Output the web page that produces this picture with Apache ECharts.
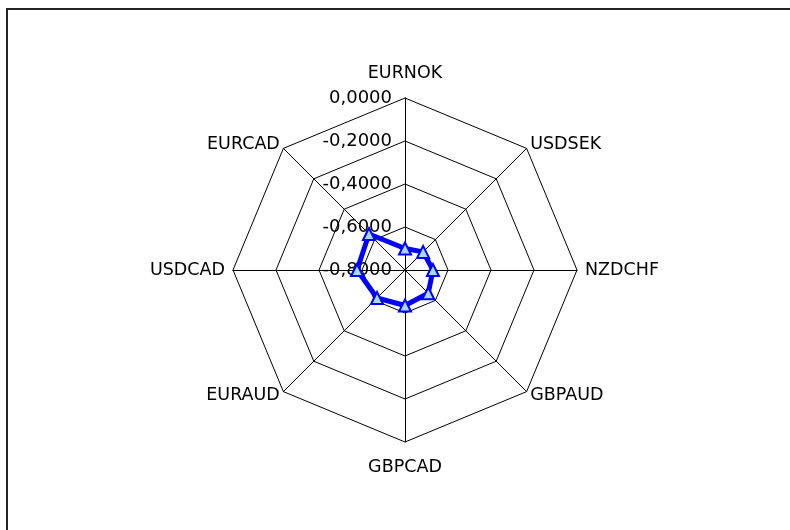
<!DOCTYPE html>
<html>
<head>
<meta charset="utf-8">
<script src="https://cdn.jsdelivr.net/npm/echarts@6/dist/echarts.min.js"></script>
<style>
  html, body { margin: 0; padding: 0; background: #fff; }
  #main { width: 790px; height: 530px; }
</style>
</head>
<body>
<div id="main"></div>
<script>
// indicators in ECharts order (top first, then counter-clockwise)
const categories = ["EURNOK", "EURCAD", "USDCAD", "EURAUD", "GBPCAD", "GBPAUD", "NZDCHF", "USDSEK"];
const values = [-0.700, -0.563, -0.577, -0.616, -0.635, -0.647, -0.670, -0.681];
const axisMin = -0.8;
const axisMax = 0;

var chartDom = document.getElementById("main");
var myChart = echarts.init(chartDom);
var option;

const fmt = (v) => Number(v).toFixed(4).replace(".", ",");

// name gap per direction: vertical ones sit further out
const gapFor = (i) => {
  if (i === 0 || i === 4) return 16;
  if (i === 2 || i === 6) return 8;
  return 5;
};

option = {
  backgroundColor: "#fff",
  animation: false,
  graphic: [
    {
      type: "rect",
      shape: { x: 7, y: 9, width: 800, height: 560 },
      style: { fill: "none", stroke: "#222", lineWidth: 2 },
    },
  ],
  radar: {
    center: [405, 270],
    radius: 172,
    shape: "polygon",
    splitNumber: 4,
    nameGap: 10,
    axisName: {
      color: "#000",
      fontFamily: "DejaVu Sans",
      fontSize: 17.5,
    },
    indicator: categories.map((name, i) => ({
      name: name,
      min: axisMin,
      max: axisMax,
      nameGap: gapFor(i),
      axisLabel: i === 0 ? { show: true } : { show: false },
    })),
    axisLabel: {
      color: "#000",
      fontFamily: "DejaVu Sans",
      fontSize: 18,
      margin: 13,
      formatter: fmt,
    },
    splitLine: { lineStyle: { color: "#000", width: 1 } },
    splitArea: { show: false },
    axisLine: { lineStyle: { color: "#000", width: 1 } },
  },
  series: [
    {
      type: "radar",
      symbol: "triangle",
      symbolSize: 12,
      lineStyle: { color: "#0000ff", width: 5 },
      itemStyle: { color: "#a8d8ff", borderColor: "#0000ff", borderWidth: 2 },
      data: [{ value: values }],
    },
  ],
};

option && myChart.setOption(option);
</script>
</body>
</html>
